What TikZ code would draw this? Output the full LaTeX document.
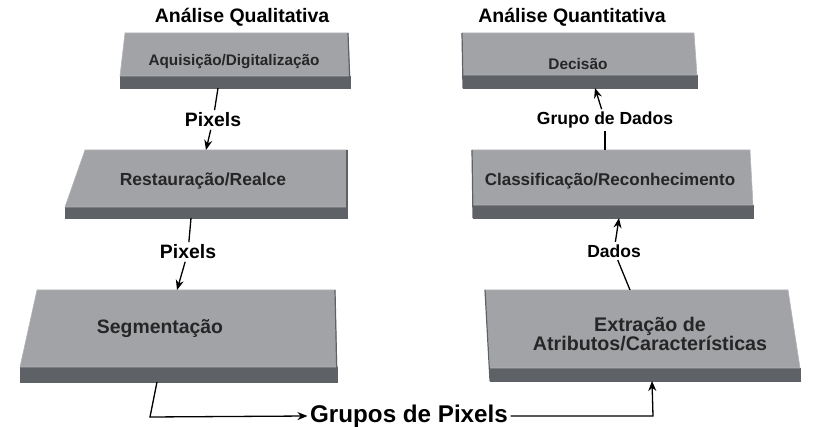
\documentclass[tikz,border=0pt]{standalone}
\usepackage{fontspec}
\setmainfont{Liberation Sans}
\usetikzlibrary{arrows.meta}
\definecolor{topface}{HTML}{A2A3A7}
\definecolor{topedge}{HTML}{B4B5B8}
\definecolor{frontface}{HTML}{5E6166}
\definecolor{boxtext}{HTML}{262626}
\tikzset{
  topf/.style={fill=topface,draw=topedge,line width=0.6pt},
  frontf/.style={fill=frontface,draw=frontface,line width=0.4pt},
  sideline/.style={draw=frontface,line width=1.2pt},
  boxlabel/.style={text=boxtext,font=\bfseries\fontsize{#1}{#1}\selectfont,align=center,inner sep=0pt},
  title/.style={text=black,font=\bfseries\fontsize{19.5}{20}\selectfont,inner sep=0pt},
  lab/.style={text=black,font=\bfseries\fontsize{#1}{#1}\selectfont,inner sep=2.5pt},
  conn/.style={draw=black,line width=1.3pt},
  arr/.style={conn,-{Stealth[length=10pt,width=8pt]}}
}
\begin{document}
\begin{tikzpicture}[x=1pt,y=-1pt]
\useasboundingbox (0,0) rectangle (814,427);

% titles
\node[title] (t1) at (242,17) {Análise Qualitativa};
\node[title] (t2) at (572,17) {Análise Quantitativa};

% Aquisicao
\fill[frontf] (120,76) rectangle (350,88);
\filldraw[topf] (125,33) -- (348,33) -- (350,76) -- (120,76) -- cycle;
\draw[sideline] (348,33) -- (350,88);
\node[boxlabel=15.3] (aq) at (234,62) {Aquisição/Digitalização};

% Decisao
\fill[frontf] (463,75) rectangle (697,88);
\filldraw[topf] (462,33) -- (694,33) -- (697,75) -- (463,75) -- cycle;
\draw[sideline] (462,33) -- (463,88);
\node[boxlabel=15.4] (de) at (578,64) {Decisão};

% Restauracao
\fill[frontf] (65,207) rectangle (347,218);
\filldraw[topf] (85,150) -- (347,150) -- (347,207) -- (65,207) -- cycle;
\draw[sideline] (347,150) -- (347,218);
\node[boxlabel=17.5] (re) at (203,181) {Restauração/Realce};

% Classificacao
\fill[frontf] (473,205) rectangle (753,218);
\filldraw[topf] (472,150) -- (750,150) -- (753,205) -- (473,205) -- cycle;
\draw[sideline] (472,150) -- (473,218);
\node[boxlabel=17] (cl) at (610,181) {Classificação/Reconhecimento};

% Segmentacao
\fill[frontf] (20,367) rectangle (337,382);
\filldraw[topf] (37,290) -- (335,290) -- (337,367) -- (20,367) -- cycle;
\draw[sideline] (335,290) -- (337,382);
\node[boxlabel=19.4] (se) at (160,329) {Segmentação};

% Extracao
\fill[frontf] (490,368) rectangle (800,381);
\filldraw[topf] (485,290) -- (788,290) -- (800,368) -- (490,368) -- cycle;
\draw[sideline] (485,290) -- (490,381);
\node[boxlabel=19.7] (ex) at (650,334) {Extração de\\[-1pt]Atributos/Características};

% connector end points
\coordinate (aqB) at (218,88);
\coordinate (reT) at (206,150);
\coordinate (reB) at (191,218);
\coordinate (seT) at (177,290);
\coordinate (seB) at (157,382);
\coordinate (seC) at (150,417);
\coordinate (exC) at (653,416);
\coordinate (exB) at (652,381);
\coordinate (exT) at (630,290);
\coordinate (clB) at (619,218);
\coordinate (clT) at (605,150);
\coordinate (deB) at (595,88);

% labels
\node[lab=19.4] (p1) at (213,120) {Pixels};
\node[lab=19.4] (p2) at (188,252) {Pixels};
\node[lab=24.2] (gp) at (409,416) {Grupos de Pixels};
\node[lab=17.5] (da) at (614,251) {Dados};
\node[lab=17.5] (gd) at (605,120) {Grupo de Dados};

% connectors
\draw[conn] (aqB) -- (p1);
\draw[arr] (p1) -- (reT);
\draw[conn] (reB) -- (p2);
\draw[arr] (p2) -- (seT);
\draw[arr] (seB) -- (seC) -- (gp.west);
\draw[arr] (gp.east) -- (exC) -- (exB);
\draw[conn] (exT) -- (da);
\draw[arr] (da) -- (clB);
\draw[conn] (clT) -- (gd);
\draw[arr] (gd) -- (deB);
\end{tikzpicture}
\end{document}
